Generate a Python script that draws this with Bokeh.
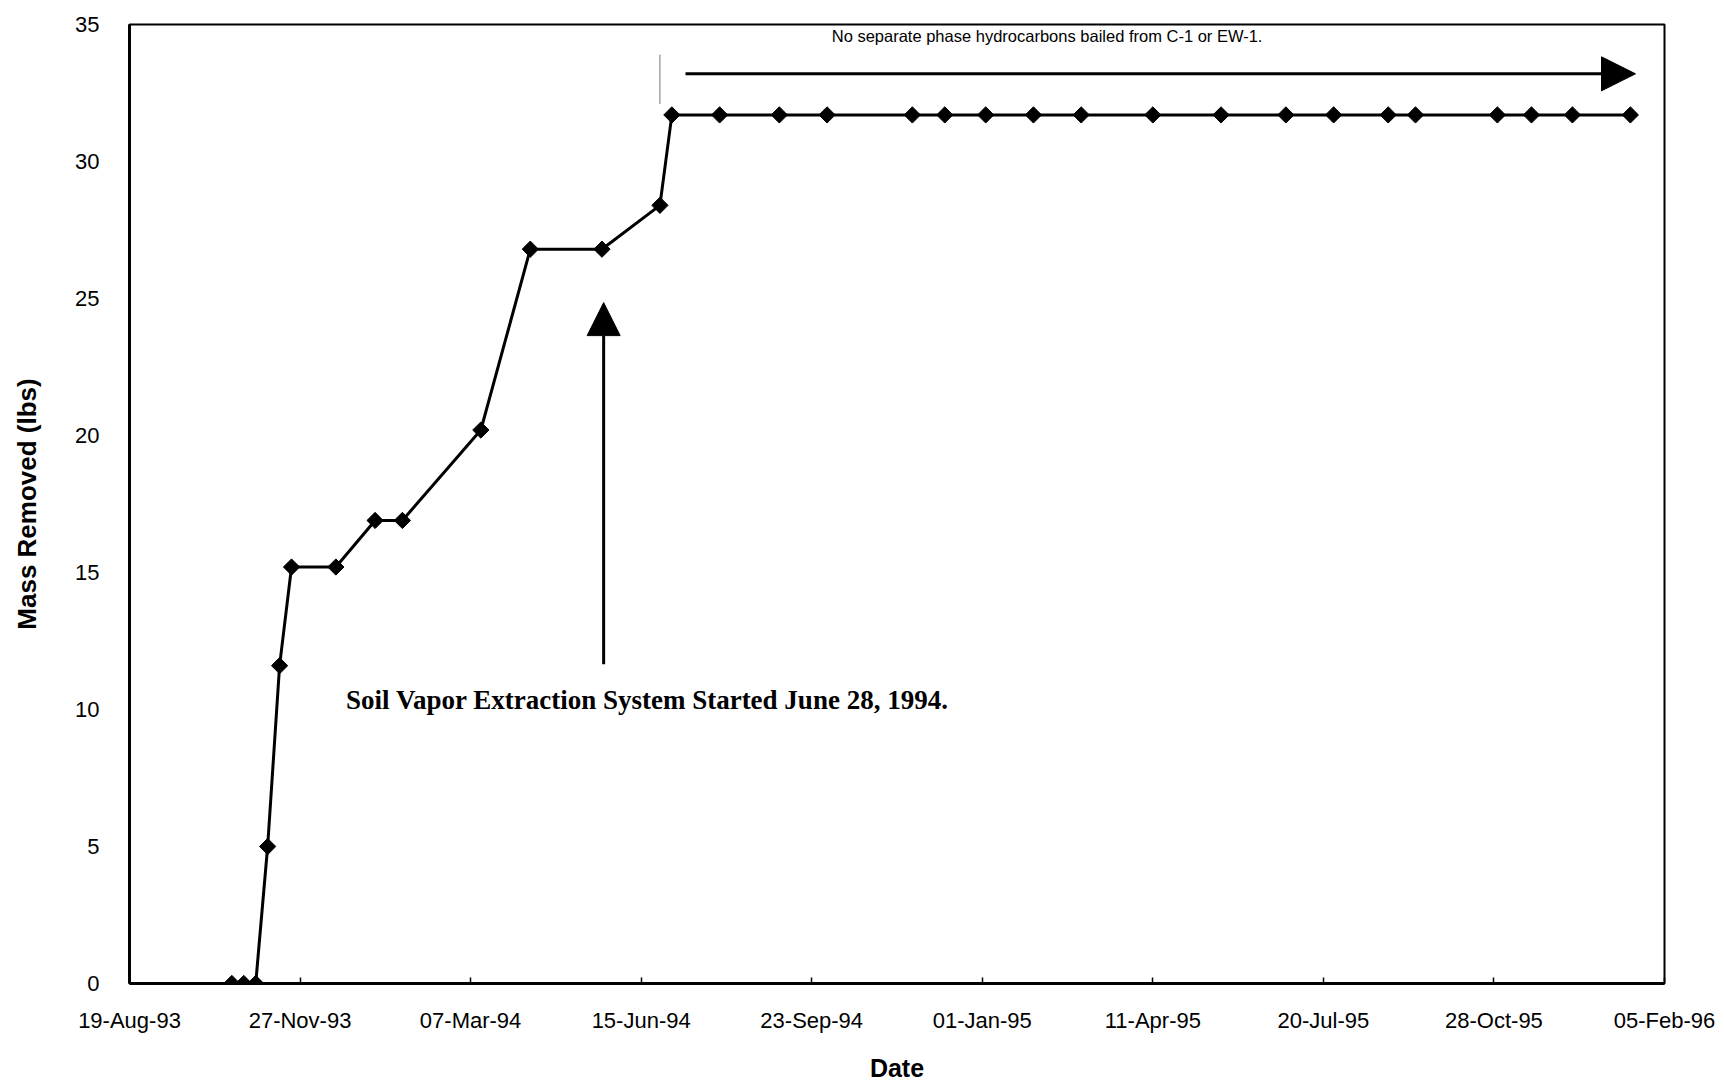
import pandas as pd
from bokeh.plotting import figure
from bokeh.models import (Range1d, FixedTicker, DatetimeTickFormatter, Arrow,
                          NormalHead, Label, ColumnDataSource)
from bokeh.embed import file_html
from bokeh.resources import INLINE

# ---------------- data ----------------
DATES = ["1993-10-18", "1993-10-25", "1993-11-01", "1993-11-08", "1993-11-15",
         "1993-11-22", "1993-12-18", "1994-01-10", "1994-01-26", "1994-03-13",
         "1994-04-11", "1994-05-23", "1994-06-26", "1994-07-03", "1994-07-31",
         "1994-09-04", "1994-10-02", "1994-11-21", "1994-12-10", "1995-01-03",
         "1995-01-31", "1995-02-28", "1995-04-11", "1995-05-21", "1995-06-28",
         "1995-07-26", "1995-08-27", "1995-09-12", "1995-10-30", "1995-11-19",
         "1995-12-13", "1996-01-16"]
MASS_LBS = [0.0, 0.0, 0.0, 5.0, 11.6,
            15.2, 15.2, 16.9, 16.9, 20.2,
            26.8, 26.8, 28.4, 31.7, 31.7,
            31.7, 31.7, 31.7, 31.7, 31.7,
            31.7, 31.7, 31.7, 31.7, 31.7,
            31.7, 31.7, 31.7, 31.7, 31.7,
            31.7, 31.7]

X_TICK_LABELS = ["19-Aug-93", "27-Nov-93", "07-Mar-94", "15-Jun-94", "23-Sep-94",
                 "01-Jan-95", "11-Apr-95", "20-Jul-95", "28-Oct-95", "05-Feb-96"]
Y_TICKS = [0, 5, 10, 15, 20, 25, 30, 35]

NOTE_TOP = "No separate phase hydrocarbons bailed from C-1 or EW-1."
NOTE_TOP_AT = ("1995-02-08", 34.58)
ARROW_TOP = ("1994-07-11", "1996-01-19", 33.2)
MARK_TOP = ("1994-06-26", 32.1, 33.9)
NOTE_SVE = "Soil Vapor Extraction System Started June 28, 1994."
NOTE_SVE_AT = ("1993-12-24", 10.36)
ARROW_SVE = ("1994-05-24", 11.65, 24.85)

# ---------------- helpers ----------------
EPOCH = pd.Timestamp("1970-01-01")


def ms(d):
    return (pd.Timestamp(d) - EPOCH) / pd.Timedelta(milliseconds=1)


def ms_label(lbl):
    return ms(pd.to_datetime(lbl, format="%d-%b-%y"))


x_ticks = [ms_label(t) for t in X_TICK_LABELS]

src = ColumnDataSource(dict(x=[ms(d) for d in DATES], y=MASS_LBS))

W, H = 1724, 1084
FL, FT, FW, FH = 129, 24, 1535, 959

p = figure(width=W, height=H, output_backend="svg", toolbar_location=None,
           x_axis_type="datetime",
           x_range=Range1d(x_ticks[0], x_ticks[-1]),
           y_range=Range1d(Y_TICKS[0], Y_TICKS[-1]),
           min_border_left=FL, min_border_right=W - FL - FW,
           min_border_top=FT, min_border_bottom=H - FT - FH,
           background_fill_color="white", border_fill_color="white")

p.xgrid.visible = False
p.ygrid.visible = False
p.outline_line_color = "black"
p.outline_line_width = 2

fmt = "%d-%b-%y"
p.xaxis.formatter = DatetimeTickFormatter(
    microseconds=fmt, milliseconds=fmt, seconds=fmt, minsec=fmt, minutes=fmt,
    hourmin=fmt, hours=fmt, days=fmt, months=fmt, years=fmt)
p.xaxis.ticker = FixedTicker(ticks=x_ticks)
p.yaxis.ticker = FixedTicker(ticks=Y_TICKS)

for ax in (p.xaxis, p.yaxis):
    ax.axis_line_color = "black"
    ax.axis_line_width = 3
    ax.minor_tick_line_color = None
    ax.major_label_text_font = "Liberation Sans"
    ax.major_label_text_font_size = "22px"
    ax.major_label_text_color = "black"
    ax.axis_label_text_font = "Liberation Sans"
    ax.axis_label_text_font_style = "bold"
    ax.axis_label_text_color = "black"

p.xaxis.major_tick_in = 6
p.xaxis.major_tick_out = 0
p.xaxis.major_tick_line_width = 1.5
p.xaxis.major_label_standoff = 24
p.xaxis.axis_label = "Date"
p.xaxis.axis_label_text_font_size = "25px"
p.xaxis.axis_label_standoff = 18

p.yaxis.major_tick_in = 0
p.yaxis.major_tick_out = 0
p.yaxis.major_label_standoff = 30
p.yaxis.axis_label = "Mass Removed (lbs)"
p.yaxis.axis_label_text_font_size = "26px"
p.yaxis.axis_label_standoff = 30

# series
p.line("x", "y", source=src, line_color="black", line_width=3)
p.scatter("x", "y", source=src, marker="square", angle=0.7853981634, size=11.5,
          fill_color="black", line_color="black")

# annotations
p.segment(x0=[ms(MARK_TOP[0])], y0=[MARK_TOP[1]], x1=[ms(MARK_TOP[0])], y1=[MARK_TOP[2]],
          line_color="#777777", line_width=1)

p.add_layout(Arrow(end=NormalHead(size=34, fill_color="black", line_color="black"),
                   x_start=ms(ARROW_TOP[0]), y_start=ARROW_TOP[2],
                   x_end=ms(ARROW_TOP[1]), y_end=ARROW_TOP[2],
                   line_color="black", line_width=3))
p.add_layout(Arrow(end=NormalHead(size=33, fill_color="black", line_color="black"),
                   x_start=ms(ARROW_SVE[0]), y_start=ARROW_SVE[1],
                   x_end=ms(ARROW_SVE[0]), y_end=ARROW_SVE[2],
                   line_color="black", line_width=3))

p.add_layout(Label(x=ms(NOTE_TOP_AT[0]), y=NOTE_TOP_AT[1], text=NOTE_TOP,
                   text_font="Liberation Sans", text_font_size="16.5px",
                   text_align="center", text_baseline="middle", text_color="black"))
p.add_layout(Label(x=ms(NOTE_SVE_AT[0]), y=NOTE_SVE_AT[1], text=NOTE_SVE,
                   text_font="Liberation Serif", text_font_size="27px",
                   text_font_style="bold",
                   text_align="left", text_baseline="middle", text_color="black"))

open("out.html", "w").write(file_html(p, INLINE))
